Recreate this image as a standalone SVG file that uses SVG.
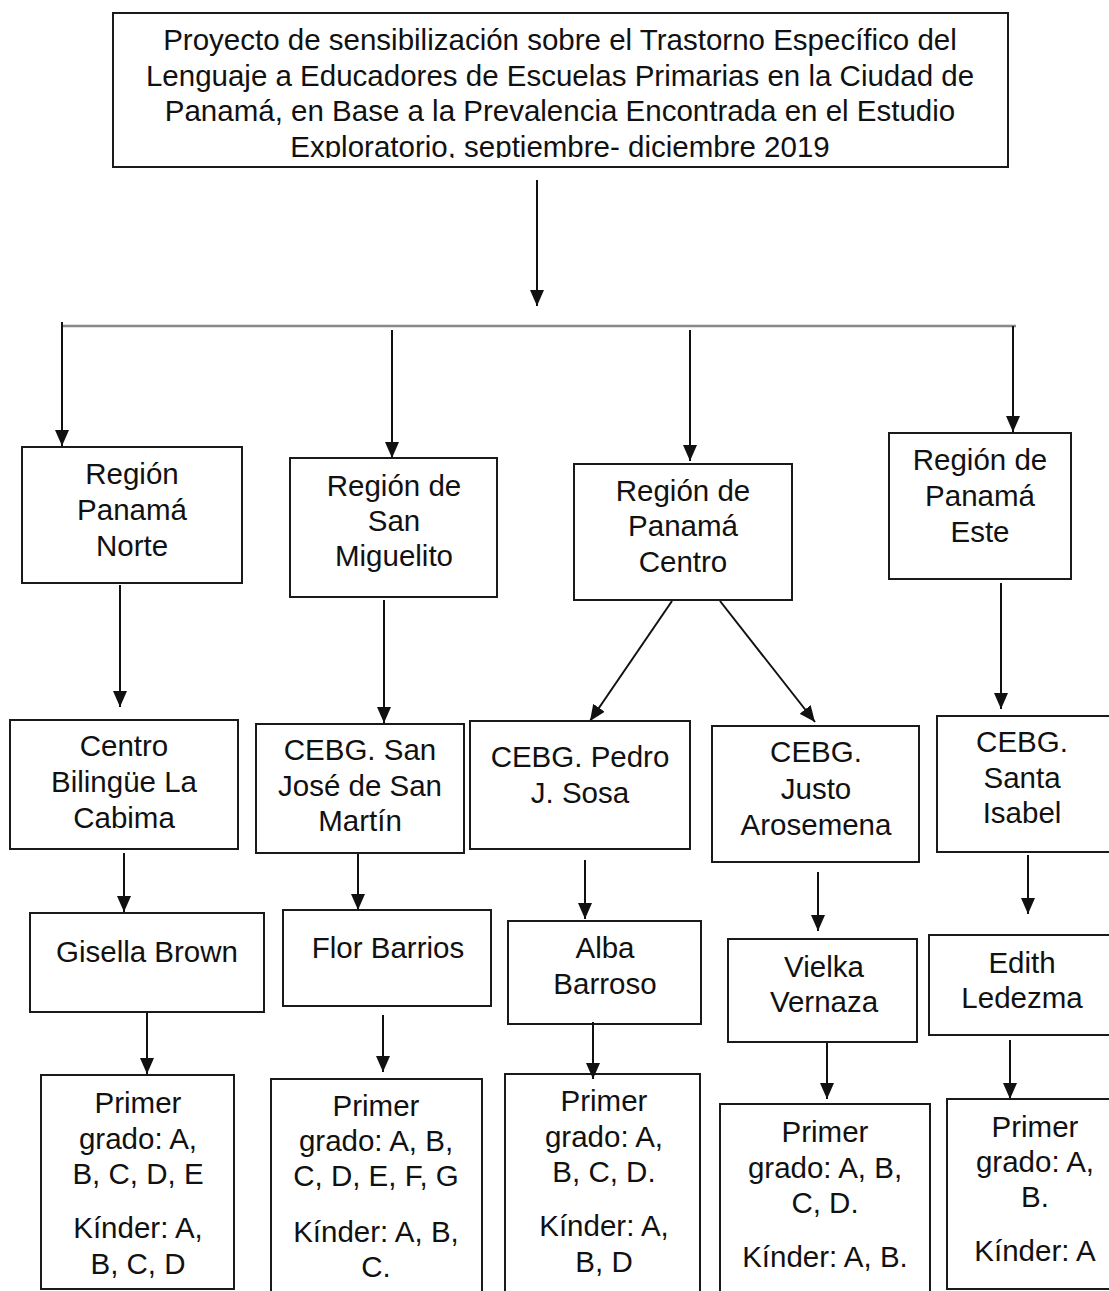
<svg xmlns="http://www.w3.org/2000/svg" width="1109" height="1291" viewBox="0 0 1109 1291">
<style>
.box{fill:#fff;stroke:#1a1a1a;stroke-width:2}
.t{font-family:"Liberation Sans",Arial,sans-serif;font-size:29.5px;fill:#111;text-anchor:middle}
.c{stroke:#111;stroke-width:2;fill:none;marker-end:url(#ah)}
</style>
<defs>
<marker id="ah" markerUnits="userSpaceOnUse" markerWidth="16" markerHeight="14" refX="16" refY="7" orient="auto">
<path d="M0,0 L16,7 L0,14 z" fill="#111"/>
</marker>
<clipPath id="topclip"><rect x="113" y="13" width="895" height="145"/></clipPath>
</defs>
<rect width="1109" height="1291" fill="#fff"/>
<g id="connectors">
<line class="c" x1="537" y1="180" x2="537" y2="306"/>
<line x1="62" y1="326" x2="1016" y2="326" stroke="#888" stroke-width="2.5"/>
<line class="c" x1="62" y1="322" x2="62" y2="446"/>
<line class="c" x1="392" y1="330" x2="392" y2="458"/>
<line class="c" x1="690" y1="330" x2="690" y2="461"/>
<line class="c" x1="1013" y1="326" x2="1013" y2="432"/>
<line class="c" x1="120" y1="585" x2="120" y2="707"/>
<line class="c" x1="384" y1="600" x2="384" y2="723"/>
<line class="c" x1="672" y1="601" x2="590" y2="721"/>
<line class="c" x1="720" y1="601" x2="815" y2="722"/>
<line class="c" x1="1001" y1="583" x2="1001" y2="709"/>
<line class="c" x1="124" y1="853" x2="124" y2="912"/>
<line class="c" x1="358" y1="853" x2="358" y2="910"/>
<line class="c" x1="585" y1="860" x2="585" y2="919"/>
<line class="c" x1="818" y1="872" x2="818" y2="931"/>
<line class="c" x1="1028" y1="855" x2="1028" y2="914"/>
<line class="c" x1="147" y1="1013" x2="147" y2="1074"/>
<line class="c" x1="383" y1="1015" x2="383" y2="1072"/>
<line class="c" x1="827" y1="1040" x2="827" y2="1099"/>
<line class="c" x1="1010" y1="1040" x2="1010" y2="1099"/>
</g>
<g id="n-top">
<rect class="box" x="113" y="13" width="895" height="154"/>
<g clip-path="url(#topclip)">
<text class="t" x="560" y="50">Proyecto de sensibilización sobre el Trastorno Específico del</text>
<text class="t" x="560" y="86">Lenguaje a Educadores de Escuelas Primarias en la Ciudad de</text>
<text class="t" x="560" y="121">Panamá, en Base a la Prevalencia Encontrada en el Estudio</text>
<text class="t" x="560" y="157">Exploratorio, septiembre- diciembre 2019</text>
</g>
</g>
<g id="n-r1">
<rect class="box" x="22" y="447" width="220" height="136"/>
<text class="t" x="132" y="484">Región</text>
<text class="t" x="132" y="520">Panamá</text>
<text class="t" x="132" y="556">Norte</text>
</g>
<g id="n-r2">
<rect class="box" x="290" y="458" width="207" height="139"/>
<text class="t" x="394" y="496">Región de</text>
<text class="t" x="394" y="531">San</text>
<text class="t" x="394" y="566">Miguelito</text>
</g>
<g id="n-r3">
<rect class="box" x="574" y="464" width="218" height="136"/>
<text class="t" x="683" y="501">Región de</text>
<text class="t" x="683" y="536">Panamá</text>
<text class="t" x="683" y="572">Centro</text>
</g>
<g id="n-r4">
<rect class="box" x="889" y="433" width="182" height="146"/>
<text class="t" x="980" y="470">Región de</text>
<text class="t" x="980" y="506">Panamá</text>
<text class="t" x="980" y="542">Este</text>
</g>
<g id="n-s1">
<rect class="box" x="10" y="720" width="228" height="129"/>
<text class="t" x="124" y="756">Centro</text>
<text class="t" x="124" y="792">Bilingüe La</text>
<text class="t" x="124" y="828">Cabima</text>
</g>
<g id="n-s2">
<rect class="box" x="256" y="724" width="208" height="129"/>
<text class="t" x="360" y="760">CEBG. San</text>
<text class="t" x="360" y="796">José de San</text>
<text class="t" x="360" y="831">Martín</text>
</g>
<g id="n-s3">
<rect class="box" x="470" y="721" width="220" height="128"/>
<text class="t" x="580" y="767">CEBG. Pedro</text>
<text class="t" x="580" y="803">J. Sosa</text>
</g>
<g id="n-s4">
<rect class="box" x="712" y="726" width="207" height="136"/>
<text class="t" x="816" y="762">CEBG.</text>
<text class="t" x="816" y="799">Justo</text>
<text class="t" x="816" y="835">Arosemena</text>
</g>
<g id="n-s5">
<rect class="box" x="937" y="716" width="174" height="136"/>
<text class="t" x="1022" y="752">CEBG.</text>
<text class="t" x="1022" y="788">Santa</text>
<text class="t" x="1022" y="823">Isabel</text>
</g>
<g id="n-p1">
<rect class="box" x="30" y="913" width="234" height="99"/>
<text class="t" x="147" y="962">Gisella Brown</text>
</g>
<g id="n-p2">
<rect class="box" x="283" y="910" width="208" height="96"/>
<text class="t" x="388" y="958">Flor Barrios</text>
</g>
<g id="n-p3">
<rect class="box" x="508" y="921" width="193" height="103"/>
<text class="t" x="605" y="958">Alba</text>
<text class="t" x="605" y="994">Barroso</text>
</g>
<g id="n-p4">
<rect class="box" x="728" y="939" width="189" height="103"/>
<text class="t" x="824" y="977">Vielka</text>
<text class="t" x="824" y="1012">Vernaza</text>
</g>
<g id="n-p5">
<rect class="box" x="929" y="935" width="182" height="100"/>
<text class="t" x="1022" y="973">Edith</text>
<text class="t" x="1022" y="1008">Ledezma</text>
</g>
<g id="n-g1">
<rect class="box" x="41" y="1075" width="193" height="214"/>
<text class="t" x="138" y="1113">Primer</text>
<text class="t" x="138" y="1149">grado: A,</text>
<text class="t" x="138" y="1184">B, C, D, E</text>
<text class="t" x="138" y="1238">Kínder: A,</text>
<text class="t" x="138" y="1274">B, C, D</text>
</g>
<g id="n-g2">
<rect class="box" x="271" y="1079" width="211" height="220"/>
<text class="t" x="376" y="1116">Primer</text>
<text class="t" x="376" y="1151">grado: A, B,</text>
<text class="t" x="376" y="1186">C, D, E, F, G</text>
<text class="t" x="376" y="1242">Kínder: A, B,</text>
<text class="t" x="376" y="1277">C.</text>
</g>
<g id="n-g3">
<rect class="box" x="505" y="1074" width="195" height="225"/>
<text class="t" x="604" y="1111">Primer</text>
<text class="t" x="604" y="1147">grado: A,</text>
<text class="t" x="604" y="1182">B, C, D.</text>
<text class="t" x="604" y="1236">Kínder: A,</text>
<text class="t" x="604" y="1272">B, D</text>
</g>
<line class="c" x1="593" y1="1022" x2="593" y2="1079"/>
<g id="n-g4">
<rect class="box" x="720" y="1104" width="210" height="195"/>
<text class="t" x="825" y="1142">Primer</text>
<text class="t" x="825" y="1178">grado: A, B,</text>
<text class="t" x="825" y="1213">C, D.</text>
<text class="t" x="825" y="1267">Kínder: A, B.</text>
</g>
<g id="n-g5">
<rect class="box" x="947" y="1099" width="164" height="190"/>
<text class="t" x="1035" y="1137">Primer</text>
<text class="t" x="1035" y="1172">grado: A,</text>
<text class="t" x="1035" y="1207">B.</text>
<text class="t" x="1035" y="1261">Kínder: A</text>
</g>
</svg>
